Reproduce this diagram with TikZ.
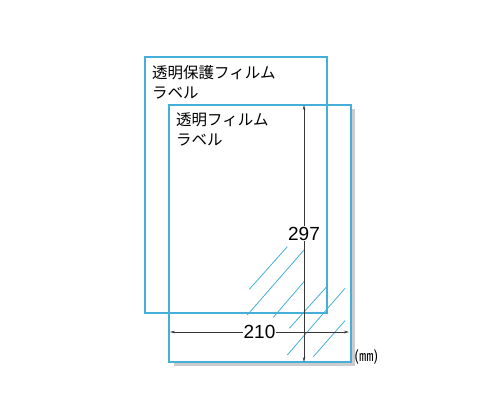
\documentclass[tikz,border=0pt]{standalone}
\usepackage{fontspec}
\setmainfont{Liberation Sans}
\newfontfamily\jpfont{Noto Sans CJK JP}
\usetikzlibrary{arrows.meta}
\definecolor{filmblue}{RGB}{70,175,215}
\definecolor{dimgray}{RGB}{55,55,55}

\begin{document}
\begin{tikzpicture}[x=1pt,y=-1pt,
  sheet/.style={draw=filmblue,line width=1.2pt},
  glare/.style={draw=filmblue,line width=0.8pt},
  dimline/.style={draw=dimgray,line width=0.7pt,{Stealth[length=5pt,width=2.6pt]}-{Stealth[length=5pt,width=2.6pt]}},
  dimlabel/.style={fill=white,inner sep=1pt,font=\fontsize{19}{19}\selectfont},
  sheetlabel/.style={anchor=north west,inner sep=0pt,align=left,font=\jpfont\fontsize{15.5}{20}\selectfont}]
\useasboundingbox (0,0) rectangle (500,417);
% Corners of the two sheets
\coordinate (back-nw) at (145,57);
\coordinate (back-se) at (327,313);
\coordinate (front-nw) at (169,105);
\coordinate (front-se) at (351,362);
% Drop shadow of the front sheet
\fill[gray!40] (352,109) rectangle (355,366);
\fill[gray!40] (174,363) rectangle (355,366);
% Draw sheets
\draw[sheet] (back-nw) rectangle (back-se);
\draw[sheet] (front-nw) rectangle (front-se);
% Sheet labels
\node[sheetlabel] (back-label) at (152,65) {透明保護フィルム\\ラベル};
\node[sheetlabel] (front-label) at (176,113) {透明フィルム\\ラベル};
% Glare on the film
\foreach \xa/\ya/\xb/\yb in {249.3/289.3/287.3/246.7, 247.3/315/304/250, 273.3/317.3/304/281.7,
  289.3/328.3/326.7/286.7, 287.3/355/345/288.3, 313.3/356.7/345/320.7}
  \draw[glare] (\xa,\ya) -- (\xb,\yb);
% Dimension lines
\coordinate (dim-top) at (304,105);
\coordinate (dim-bottom) at (304,362);
\coordinate (dim-left) at (170,332);
\coordinate (dim-right) at (349,332);
\draw[dimline] (dim-top) -- node[dimlabel] (height-label) {297} (dim-bottom);
\draw[dimline] (dim-left) -- node[dimlabel] (width-label) {210} (dim-right);
% Unit
\node[anchor=west,inner sep=0pt,font=\jpfont\fontsize{14.5}{14.5}\selectfont] (unit) at (354,357) {(㎜)};
\end{tikzpicture}
\end{document}
